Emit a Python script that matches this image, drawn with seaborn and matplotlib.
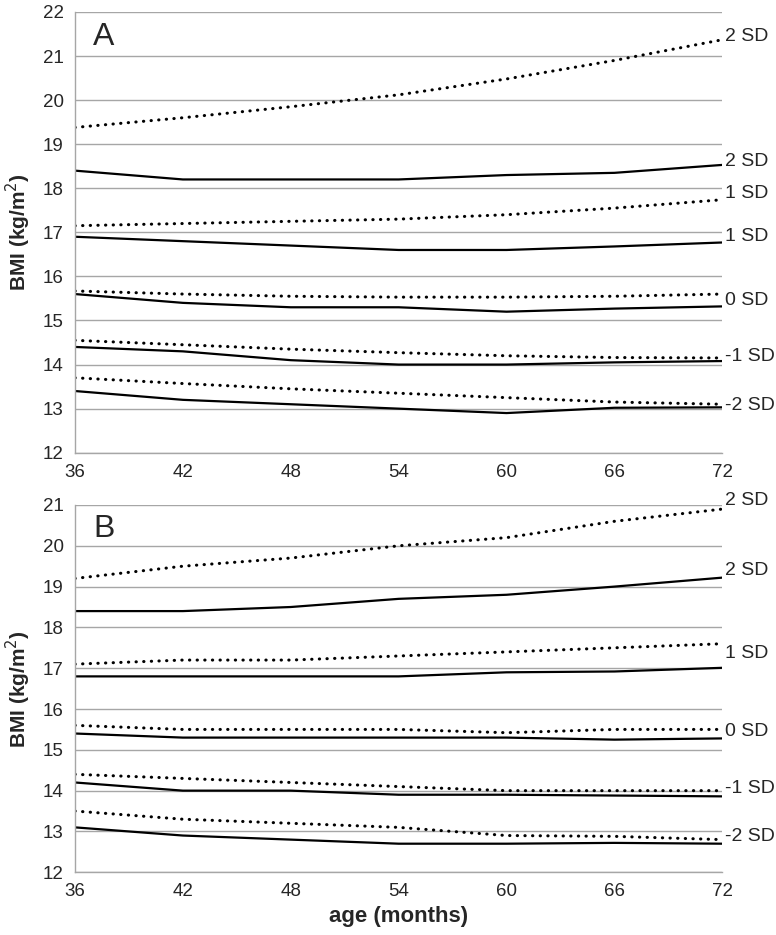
import matplotlib
matplotlib.use('Agg')
import pandas as pd
import seaborn as sns
import matplotlib.pyplot as plt

#%% data
ages = [36, 42, 48, 54, 60, 66, 72]

# panel A (dotted = reference curves, solid = study curves)
a_dot_p2 = [19.38, 19.6, 19.85, 20.12, 20.48, 20.9, 21.37]
a_sol_p2 = [18.4, 18.2, 18.2, 18.2, 18.3, 18.35, 18.53]
a_dot_p1 = [17.15, 17.2, 17.25, 17.3, 17.4, 17.55, 17.74]
a_sol_p1 = [16.9, 16.8, 16.7, 16.6, 16.6, 16.68, 16.77]
a_dot_0 = [15.67, 15.6, 15.55, 15.53, 15.53, 15.55, 15.6]
a_sol_0 = [15.6, 15.4, 15.3, 15.3, 15.2, 15.27, 15.32]
a_dot_m1 = [14.55, 14.45, 14.35, 14.27, 14.2, 14.16, 14.15]
a_sol_m1 = [14.4, 14.3, 14.1, 14.0, 14.0, 14.05, 14.08]
a_dot_m2 = [13.7, 13.57, 13.45, 13.35, 13.25, 13.15, 13.1]
a_sol_m2 = [13.4, 13.2, 13.1, 13.0, 12.9, 13.02, 13.03]

# panel B
b_dot_p2 = [19.2, 19.5, 19.7, 20.0, 20.2, 20.6, 20.9]
b_sol_p2 = [18.4, 18.4, 18.5, 18.7, 18.8, 19.0, 19.22]
b_dot_p1 = [17.1, 17.2, 17.2, 17.3, 17.4, 17.5, 17.6]
b_sol_p1 = [16.8, 16.8, 16.8, 16.8, 16.9, 16.92, 17.01]
b_dot_0 = [15.6, 15.5, 15.5, 15.5, 15.42, 15.5, 15.5]
b_sol_0 = [15.4, 15.3, 15.3, 15.3, 15.3, 15.25, 15.28]
b_dot_m1 = [14.4, 14.3, 14.2, 14.1, 14.0, 14.0, 14.0]
b_sol_m1 = [14.2, 14.0, 14.0, 13.9, 13.9, 13.88, 13.86]
b_dot_m2 = [13.5, 13.3, 13.2, 13.1, 12.9, 12.88, 12.8]
b_sol_m2 = [13.1, 12.9, 12.8, 12.7, 12.7, 12.72, 12.7]

# right-hand labels and the BMI level they sit at
a_labels = ['2 SD', '2 SD', '1 SD', '1 SD', '0 SD', '-1 SD', '-2 SD']
a_label_y = [21.45, 18.6, 17.88, 16.9, 15.46, 14.18, 13.08]
b_labels = ['2 SD', '2 SD', '1 SD', '0 SD', '-1 SD', '-2 SD']
b_label_y = [21.1, 19.4, 17.37, 15.45, 14.06, 12.87]

#%% plotting
sns.set_style('white')
plt.rcParams['font.family'] = ['Liberation Sans', 'DejaVu Sans']
plt.rcParams['lines.dash_capstyle'] = 'round'

grey = '#a6a6a6'
dotted = (0, (0.1, 2.4))


def draw_panel(ax, dot_curves, sol_curves, labels, label_y, ymax, letter, letter_y):
    for vals in dot_curves:
        sns.lineplot(x=ages, y=vals, ax=ax, color='black', lw=2.2, linestyle=dotted)
    for vals in sol_curves:
        sns.lineplot(x=ages, y=vals, ax=ax, color='black', lw=1.6)
    for lab, yv in zip(labels, label_y):
        ax.annotate(lab, xy=(72, yv), xytext=(2, 0), textcoords='offset points',
                    ha='left', va='center', fontsize=14, annotation_clip=False)
    ax.set_xlim(36, 72)
    ax.set_ylim(12, ymax)
    ax.set_xticks(ages)
    ax.set_yticks(range(12, ymax + 1))
    ax.yaxis.grid(True, color=grey, lw=1.0)
    ax.set_axisbelow(True)
    for s in ['top', 'right']:
        ax.spines[s].set_visible(False)
    for s in ['left', 'bottom']:
        ax.spines[s].set_color(grey)
        ax.spines[s].set_linewidth(1.0)
    ax.tick_params(axis='both', direction='out', length=4, width=1.0, color=grey,
                   labelsize=13.5, pad=4)
    ax.set_ylabel('BMI (kg/m$^2$)', fontsize=15, fontweight='bold', labelpad=7)
    ax.text(0.028, letter_y, letter, transform=ax.transAxes, fontsize=23,
            ha='left', va='baseline')


fig = plt.figure(figsize=(7.76, 9.35), dpi=100)
ax_a = fig.add_axes([0.0966, 0.5158, 0.8342, 0.4714])
ax_b = fig.add_axes([0.0966, 0.0671, 0.8342, 0.3928])

draw_panel(ax_a,
           [a_dot_p2, a_dot_p1, a_dot_0, a_dot_m1, a_dot_m2],
           [a_sol_p2, a_sol_p1, a_sol_0, a_sol_m1, a_sol_m2],
           a_labels, a_label_y, 22, 'A', 0.925)
draw_panel(ax_b,
           [b_dot_p2, b_dot_p1, b_dot_0, b_dot_m1, b_dot_m2],
           [b_sol_p2, b_sol_p1, b_sol_0, b_sol_m1, b_sol_m2],
           b_labels, b_label_y, 21, 'B', 0.913)

ax_a.set_xlabel('')
ax_b.set_xlabel('age (months)', fontsize=16, fontweight='bold', labelpad=4)

fig.savefig('out.png', dpi=100)
